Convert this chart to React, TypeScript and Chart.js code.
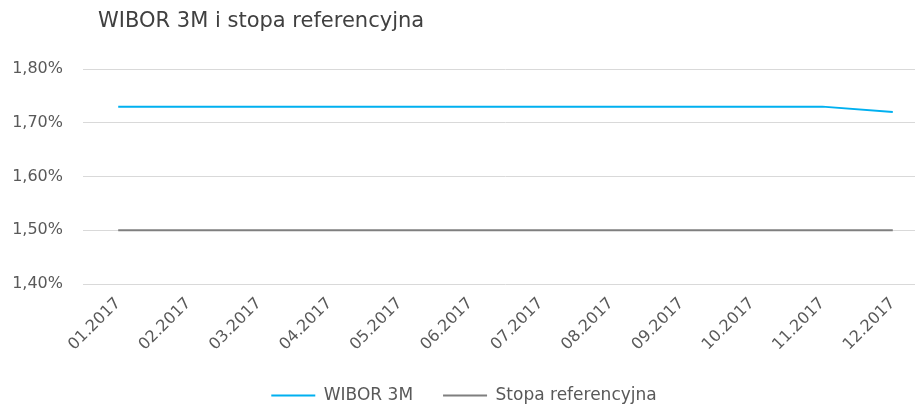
import React, { useEffect, useRef } from "react";
import { Chart, registerables } from "chart.js";

Chart.register(...registerables);

const categories = [
  "01.2017", "02.2017", "03.2017", "04.2017", "05.2017", "06.2017",
  "07.2017", "08.2017", "09.2017", "10.2017", "11.2017", "12.2017",
];
const wibor3m = [1.73, 1.73, 1.73, 1.73, 1.73, 1.73, 1.73, 1.73, 1.73, 1.73, 1.73, 1.72];
const stopaReferencyjna = [1.5, 1.5, 1.5, 1.5, 1.5, 1.5, 1.5, 1.5, 1.5, 1.5, 1.5, 1.5];
const yTicks = [1.4, 1.5, 1.6, 1.7, 1.8];

const TEXT = "#595959";
const FONT = "'DejaVu Sans', sans-serif";
const CANVAS_W = 930;
const CANVAS_H = 414;
const PLOT_BOTTOM = 284;

export default function App() {
  const ref = useRef<HTMLCanvasElement | null>(null);

  useEffect(() => {
    if (!ref.current) return;
    const chart = new Chart(ref.current, {
      type: "line",
      data: {
        labels: categories,
        datasets: [
          {
            label: "WIBOR 3M",
            data: wibor3m,
            borderColor: "#00B0F0",
            backgroundColor: "#00B0F0",
            borderWidth: 2,
            pointRadius: 0,
            tension: 0,
          },
          {
            label: "Stopa referencyjna",
            data: stopaReferencyjna,
            borderColor: "#7F7F7F",
            backgroundColor: "#7F7F7F",
            borderWidth: 2,
            pointRadius: 0,
            tension: 0,
          },
        ],
      },
      options: {
        animation: false,
        responsive: false,
        maintainAspectRatio: false,
        layout: { padding: { top: 69, left: 0, right: 2, bottom: 0 } },
        plugins: {
          title: { display: false },
          tooltip: { enabled: false },
          legend: {
            position: "bottom",
            labels: {
              color: TEXT,
              font: { family: FONT, size: 17 },
              usePointStyle: true,
              pointStyle: "line",
              pointStyleWidth: 44,
              boxHeight: 2,
              padding: 30,
              generateLabels: (c: any) =>
                c.data.datasets.map((ds: any, i: number) => ({
                  text: ds.label,
                  fillStyle: ds.borderColor,
                  strokeStyle: ds.borderColor,
                  lineWidth: 2,
                  pointStyle: "line",
                  datasetIndex: i,
                  fontColor: TEXT,
                })),
            },
          },
        },
        scales: {
          x: {
            offset: true,
            afterFit: (s: any) => {
              const lh = s.chart.legend ? s.chart.legend.height : 0;
              s.height = CANVAS_H - PLOT_BOTTOM - lh;
            },
            grid: { display: false, drawTicks: false },
            border: { display: false },
            ticks: {
              color: TEXT,
              font: { family: FONT, size: 16 },
              minRotation: 45,
              maxRotation: 45,
              autoSkip: false,
              padding: 10,
            },
          },
          y: {
            min: 1.4,
            max: 1.8,
            afterFit: (s: any) => {
              s.width = 83;
            },
            afterBuildTicks: (s: any) => {
              s.ticks = yTicks.map((v) => ({ value: v }));
            },
            grid: { color: "#D9D9D9", lineWidth: 1, drawTicks: false },
            border: { display: false },
            ticks: {
              color: TEXT,
              font: { family: FONT, size: 16 },
              padding: 20,
              callback: (v: any) => Number(v).toFixed(2).replace(".", ",") + "%",
            },
          },
        },
      },
    });
    return () => chart.destroy();
  }, []);

  return (
    <div
      style={{
        position: "absolute",
        left: 0,
        top: 0,
        width: 915,
        height: 405,
        overflow: "hidden",
        background: "#fff",
      }}
    >
      <div
        style={{
          position: "absolute",
          left: 98,
          top: 6,
          fontFamily: FONT,
          fontSize: 21,
          color: "#404040",
          whiteSpace: "nowrap",
          lineHeight: "28px",
        }}
      >
        WIBOR 3M i stopa referencyjna
      </div>
      <canvas
        ref={ref}
        width={CANVAS_W}
        height={CANVAS_H}
        style={{ display: "block", width: CANVAS_W, height: CANVAS_H }}
      />
    </div>
  );
}
